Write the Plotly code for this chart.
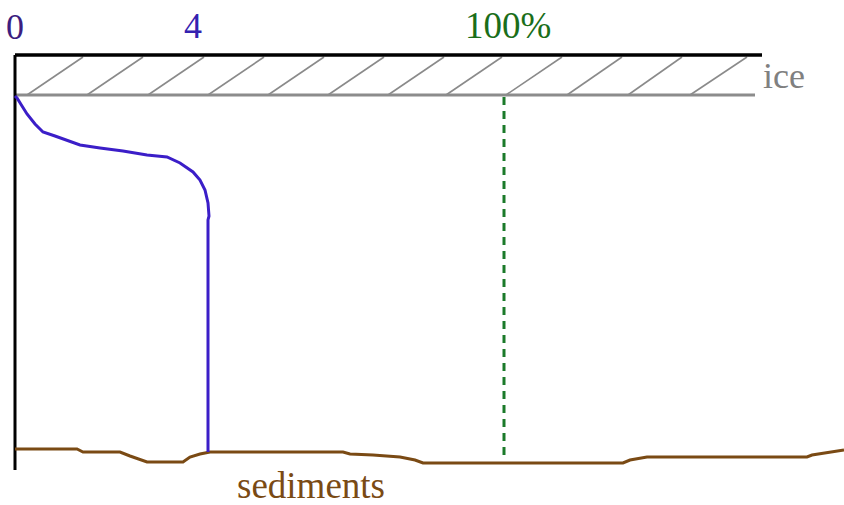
import plotly.graph_objects as go

# ---- data (chart coordinates: x = horizontal distance, y = depth, downwards) ----
axis_x = [15, 15]
axis_y = [55, 470]

ice_top_x = [15, 762]
ice_top_y = [55, 55]
ice_bottom_x = [15, 755]
ice_bottom_y = [95, 95]

hatch_bottom_x = [27, 87, 148, 208, 268, 328, 388, 446, 506, 567, 628, 690]
hatch_top_x = [83, 143, 204, 264, 324, 384, 444, 502, 562, 622, 682, 747]

profile_x = [15, 17, 22, 27, 35, 43, 55, 63, 80, 100, 123, 147, 167, 180, 193, 200, 205, 208, 209, 208, 208]
profile_y = [96, 98, 106, 114, 124, 132, 136, 139, 145, 148, 151, 155, 157, 163, 172, 180, 190, 203, 216, 220, 452]

saturation_x = [504, 504]
saturation_y = [97, 460]

sediment_x = [15, 77, 83, 120, 130, 147, 183, 190, 200, 210, 343, 350, 373, 400, 415, 423, 623, 630, 647, 807, 812, 830, 844]
sediment_y = [449, 449, 452, 452, 456, 462, 462, 457, 454, 452, 452, 454, 455, 457, 460, 463, 463, 460, 457, 457, 455, 452, 450]

labels = ["0", "4", "100%", "ice", "sediments"]
label_x = [15, 193, 508, 761, 311]
label_y = [27, 26, 25, 76, 485]

# ---- figure ----
fig = go.Figure()

# hatch lines
hx, hy = [], []
for b, t in zip(hatch_bottom_x, hatch_top_x):
    hx += [b, t, None]
    hy += [ice_bottom_y[0], ice_top_y[0] + 2, None]
fig.add_trace(go.Scatter(x=hx, y=hy, mode="lines",
                         line=dict(color="#8a8a8a", width=1.6), hoverinfo="skip"))

fig.add_trace(go.Scatter(x=ice_bottom_x, y=ice_bottom_y, mode="lines",
                         line=dict(color="#8c8c8c", width=3), hoverinfo="skip"))
fig.add_trace(go.Scatter(x=ice_top_x, y=ice_top_y, mode="lines",
                         line=dict(color="#000000", width=3.5), hoverinfo="skip"))
fig.add_trace(go.Scatter(x=axis_x, y=axis_y, mode="lines",
                         line=dict(color="#000000", width=3), hoverinfo="skip"))

fig.add_trace(go.Scatter(x=saturation_x, y=saturation_y, mode="lines",
                         line=dict(color="#1b7a2a", width=3, dash="8px,6px"), hoverinfo="skip"))

fig.add_trace(go.Scatter(x=sediment_x, y=sediment_y, mode="lines",
                         line=dict(color="#7a4a14", width=3), hoverinfo="skip"))

fig.add_trace(go.Scatter(x=profile_x, y=profile_y, mode="lines",
                         line=dict(color="#3b1ec8", width=3), hoverinfo="skip"))

label_colors = ["#3c1e80", "#3422b0", "#1a6e1a", "#808080", "#7a4a14"]
label_anchor = ["center", "center", "center", "left", "center"]
label_sizes = [36, 36, 37, 36, 37]
for t, x, y, c, a, s in zip(labels, label_x, label_y, label_colors, label_anchor, label_sizes):
    fig.add_annotation(x=x, y=y, text=t, showarrow=False, xanchor=a, yanchor="middle",
                       font=dict(family="Liberation Serif, Times New Roman, serif", size=s, color=c))

fig.update_layout(
    width=844, height=505,
    margin=dict(l=0, r=0, t=0, b=0),
    paper_bgcolor="white", plot_bgcolor="white",
    showlegend=False,
    xaxis=dict(range=[0, 844], visible=False, fixedrange=True),
    yaxis=dict(range=[505, 0], visible=False, fixedrange=True),
)

fig.write_html("out.html", config={"displayModeBar": False},
               post_script="document.body.style.margin='0';document.body.style.overflow='hidden';")
